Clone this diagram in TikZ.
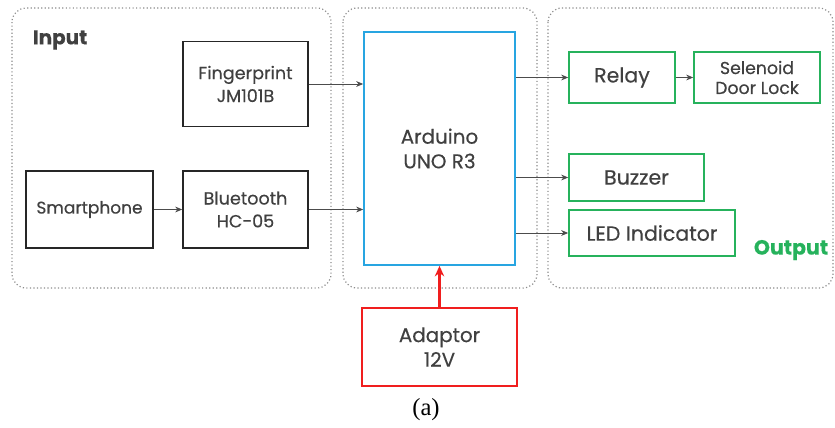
\documentclass[tikz,border=0pt]{standalone}
\usepackage{fontspec}
\setmainfont{Poppins}[FakeBold=0.35]
\newfontfamily\capfont{Liberation Serif}
\usetikzlibrary{arrows.meta}
\definecolor{txtgray}{RGB}{64,64,64}
\definecolor{outgreen}{RGB}{38,178,92}
\definecolor{unoblue}{RGB}{40,165,225}
\definecolor{pwrred}{RGB}{240,30,30}
\newcommand{\fsz}[2]{\fontsize{#1}{#2}\selectfont}
\begin{document}
\begin{tikzpicture}[x=0.03cm, y=-0.03cm,
    every node/.style={text=txtgray, font=\fsz{17}{21}, align=center},
    blk/.style={draw=black!85, line width=1.4pt, inner sep=0pt},
    outblk/.style={draw=outgreen, line width=1.4pt, inner sep=0pt},
    group/.style={draw=gray!90, dotted, line width=1pt, rounded corners=12pt},
    link/.style={-{Stealth[length=6pt,width=5pt]}, draw=black!70, line width=0.7pt}]
    \useasboundingbox (0,0) rectangle (835,428);

    % dotted groups
    \draw[group] (12,8) rectangle (331,288);
    \draw[group] (343,8) rectangle (537,288);
    \draw[group] (548,8) rectangle (833,288);

    % input side
    \node[font=\fsz{17}{21}\bfseries] (inlbl) at (60,40) {Input};
    \node[blk, minimum width=3.75cm, minimum height=2.55cm, font=\fsz{15}{19.5}] (finger) at (245.5,84) {Fingerprint\\JM101B};
    \node[blk, minimum width=3.81cm, minimum height=2.31cm, font=\fsz{14.5}{18}] (phone) at (89.5,209.5) {Smartphone};
    \node[blk, minimum width=3.75cm, minimum height=2.31cm, font=\fsz{15}{19.5}] (bt) at (245.5,209.5) {Bluetooth\\HC-05};

    % controller
    \node[draw=unoblue, line width=1.4pt, inner sep=0pt, minimum width=4.53cm, minimum height=6.99cm] (uno) at (439.5,148.5) {Arduino\\UNO R3};

    % output side
    \node[outblk, minimum width=3.18cm, minimum height=1.53cm, font=\fsz{17.5}{21}] (relay) at (622,77.5) {Relay};
    \node[outblk, minimum width=3.78cm, minimum height=1.53cm, font=\fsz{14.8}{17}] (lock) at (757,77.5) {Selenoid\\Door Lock};
    \node[outblk, minimum width=4.05cm, minimum height=1.41cm, font=\fsz{17.5}{21}] (buzz) at (636.5,177.5) {Buzzer};
    \node[outblk, minimum width=4.98cm, minimum height=1.38cm, font=\fsz{17.5}{21}] (led) at (652,233) {LED Indicator};
    \node[text=outgreen, font=\fsz{17.5}{21}\bfseries] (outlbl) at (791,250) {Output};

    % power
    \node[draw=pwrred, line width=1.4pt, inner sep=0pt, minimum width=4.65cm, minimum height=2.34cm] (adapt) at (439.5,347) {Adaptor\\12V};
    \node[text=black, font=\capfont\fsz{21}{24}] (cap) at (426,410) {(a)};

    % connections
    \draw[link] (phone) -- (bt);
    \draw[link] (finger.east) -- (finger.east -| uno.west);
    \draw[link] (bt.east) -- (bt.east -| uno.west);
    \draw[link] (uno.east |- relay.west) -- (relay.west);
    \draw[link] (relay) -- (lock);
    \draw[link] (uno.east |- buzz.west) -- (buzz.west);
    \draw[link] (uno.east |- led.west) -- (led.west);
    \draw[-{Stealth[length=9pt,width=8pt]}, draw=pwrred, fill=pwrred, line width=2pt] (adapt) -- (uno);
\end{tikzpicture}
\end{document}
